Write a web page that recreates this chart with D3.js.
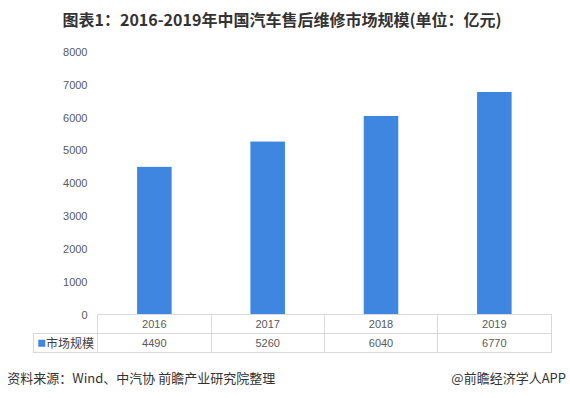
<!DOCTYPE html>
<html><head><meta charset="utf-8">
<script src="https://cdn.jsdelivr.net/npm/d3@7"></script>
<style>
html,body{margin:0;padding:0;background:#fff;}
svg{display:block;}
</style></head>
<body>
<svg id="chart" width="570" height="398"></svg>
<script>
const categories = ["2016", "2017", "2018", "2019"];
const values = [4490, 5260, 6040, 6770];
const seriesName = "市场规模";
const yTicks = [0, 1000, 2000, 3000, 4000, 5000, 6000, 7000, 8000];
const titleText = "图表1：2016-2019年中国汽车售后维修市场规模(单位：亿元)";
const sourceText = "资料来源：Wind、中汽协 前瞻产业研究院整理";
const brandText = "@前瞻经济学人APP";

(function () {
const svg = d3.select("#chart");
const cjk = "'Microsoft YaHei','Noto Sans CJK SC','Noto Sans',sans-serif";
const num = "'Liberation Sans',Arial,sans-serif";
const barColor = "#3f86e0";
const textColor = "#595959";
const border = "#d9d9d9";

const pLeft = 97.7, pRight = 551, pTop = 51.6, pBottom = 314.3;
const x = d3.scaleBand().domain(categories).range([pLeft, pRight]).paddingInner(0.695).paddingOuter(0.3475);
const xc = d3.scaleBand().domain(categories).range([pLeft, pRight]);
const y = d3.scaleLinear().domain([0, 8000]).range([pBottom, pTop]);

// title
svg.append("text").attr("x", 62.5).attr("y", 25.5)
  .attr("font-family", cjk).attr("font-weight", "bold").attr("font-size", 16)
  .attr("fill", "#333").text(titleText);

// y axis labels
const yAxis = d3.axisLeft(y).tickValues(yTicks).tickFormat(d3.format("d")).tickSize(0).tickPadding(0);
const gy = svg.append("g").attr("transform", `translate(${87.5},0)`).call(yAxis);
gy.select(".domain").remove();
gy.selectAll("text").attr("font-family", num).attr("font-size", 11).attr("fill", textColor).attr("dy", "0.35em");

// bars
svg.append("g").selectAll("rect").data(values).join("rect")
  .attr("x", (d, i) => x(categories[i]))
  .attr("width", x.bandwidth())
  .attr("y", d => y(d))
  .attr("height", d => y(0) - y(d))
  .attr("fill", barColor);

// data table
const rowH = 19.3;
const r0 = pBottom, r1 = pBottom + rowH, r2 = pBottom + 2 * rowH;
const legLeft = 33.3;
const tg = svg.append("g").attr("stroke", border).attr("stroke-width", 1).attr("shape-rendering", "crispEdges");
tg.append("line").attr("x1", pLeft).attr("x2", pRight).attr("y1", r0).attr("y2", r0);
tg.append("line").attr("x1", legLeft).attr("x2", pRight).attr("y1", r1).attr("y2", r1);
tg.append("line").attr("x1", legLeft).attr("x2", pRight).attr("y1", r2).attr("y2", r2);
tg.append("line").attr("x1", legLeft).attr("x2", legLeft).attr("y1", r1).attr("y2", r2);
const cols = categories.map(c => xc(c)).concat([pRight]);
tg.selectAll("line.v").data(cols).join("line").attr("class", "v")
  .attr("x1", d => d).attr("x2", d => d).attr("y1", r0).attr("y2", r2);

svg.append("g").selectAll("text").data(categories).join("text")
  .attr("x", d => xc(d) + xc.bandwidth() / 2).attr("y", (r0 + r1) / 2).attr("dy", "0.36em")
  .attr("text-anchor", "middle").attr("font-family", num).attr("font-size", 11)
  .attr("fill", textColor).text(d => d);
svg.append("g").selectAll("text").data(values).join("text")
  .attr("x", (d, i) => xc(categories[i]) + xc.bandwidth() / 2).attr("y", (r1 + r2) / 2).attr("dy", "0.36em")
  .attr("text-anchor", "middle").attr("font-family", num).attr("font-size", 11)
  .attr("fill", textColor).text(d => d);

// legend key in table
svg.append("rect").attr("x", 38.3).attr("y", (r1 + r2) / 2 - 3.5).attr("width", 7).attr("height", 7).attr("fill", barColor);
svg.append("text").attr("x", 46).attr("y", (r1 + r2) / 2).attr("dy", "0.36em")
  .attr("font-family", cjk).attr("font-size", 12).attr("fill", "#404040").text(seriesName);

// footer
svg.append("text").attr("x", 7.3).attr("y", 383)
  .attr("font-family", cjk).attr("font-size", 13).attr("fill", "#333").text(sourceText);
svg.append("text").attr("x", 566).attr("y", 383).attr("text-anchor", "end")
  .attr("font-family", cjk).attr("font-size", 13).attr("fill", "#333").text(brandText);
})();
</script>
</body></html>
